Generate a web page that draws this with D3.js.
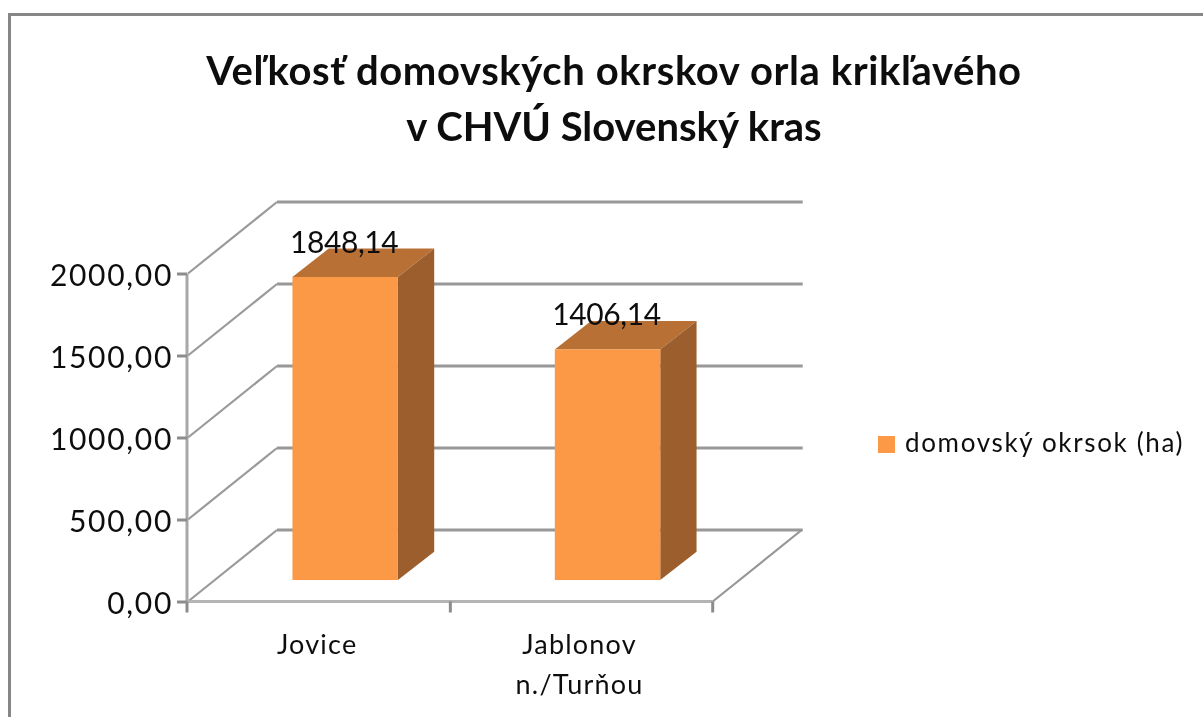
<!DOCTYPE html>
<html><head><meta charset="utf-8">
<script src="https://cdn.jsdelivr.net/npm/d3@7"></script>
<style>html,body{margin:0;padding:0;background:#fff;overflow:hidden}svg{display:block}text{font-family:Lato,"Open Sans",sans-serif;fill:#111}</style>
</head><body><svg id="c" width="1203" height="717"></svg>
<script>
const titleLines=["Veľkosť domovských okrskov orla krikľavého","v CHVÚ Slovenský kras"];
const categories=[["Jovice"],["Jablonov","n./Turňou"]];
const values=[1848.14,1406.14];
const seriesName="domovský okrsok (ha)";
const yTicks=[0,500,1000,1500,2000];
const svg=d3.select("#c");
svg.append("defs").append("filter").attr("id","soft").attr("x","-5%").attr("y","-20%").attr("width","110%").attr("height","140%").append("feGaussianBlur").attr("stdDeviation",0.45);
svg.append("path").attr("d","M9.5,717V14.5H1203").attr("fill","none").attr("stroke","#868686").attr("stroke-width",3);
const y=d3.scaleLinear().domain([0,2000]).range([601.5,273.5]);
const x=d3.scaleBand().domain(d3.range(categories.length)).range([188,712.7]).paddingInner(0).paddingOuter(0);
const wallDx=89,wallDy=-71.5,barFrac=0.3,barDepthDx=36.3,barDepthDy=-28.4,barFracW=0.402;
const grid=svg.append("g");
yTicks.forEach(t=>{
 const yy=y(t);
 grid.append("path").attr("d",`M${x.range()[0]},${yy}L${x.range()[0]+wallDx},${yy+wallDy}`).attr("fill","none").attr("stroke","#9a9a9a").attr("stroke-width",2.2);
 grid.append("path").attr("d",`M${x.range()[0]+wallDx},${yy+wallDy}H${x.range()[1]+wallDx+1}`).attr("fill","none").attr("stroke","#989898").attr("stroke-width",3);
});
grid.append("path").attr("d",`M${x.range()[1]},${y(0)}L${x.range()[1]+wallDx},${y(0)+wallDy}`).attr("fill","none").attr("stroke","#969696").attr("stroke-width",2.2);
const fmt=d=>d3.format(".2f")(d).replace(".",",");
const ax=d3.axisLeft(y).tickValues(yTicks).tickSize(10).tickPadding(4).tickFormat(fmt);
const gy=svg.append("g").attr("transform","translate(187,0)").call(ax);
gy.selectAll("line").attr("stroke","#8c8c8c").attr("stroke-width",3);
gy.select(".domain").attr("stroke","#a8a8a8").attr("stroke-width",3).attr("d",`M0,${y(2000)}V${y(0)}`);
gy.selectAll("text").attr("font-size",30).attr("font-family","Lato").attr("fill","#111").attr("text-anchor","end").attr("x",-14).attr("dy",12).attr("letter-spacing",1.7).attr("filter","url(#soft)");
const gx=svg.append("g").attr("transform",`translate(0,${y(0)})`);
gx.append("line").attr("x1",x.range()[0]).attr("x2",x.range()[1]).attr("stroke","#b4b4b4").attr("stroke-width",3);
[0,1,2].forEach(i=>{const p=x.range()[0]+i*x.bandwidth()-(i==0?1:0);gx.append("line").attr("x1",p).attr("x2",p).attr("y1",0).attr("y2",11).attr("stroke","#8c8c8c").attr("stroke-width",3);});
const bars=svg.append("g").selectAll("g").data(values).join("g");
const ox=26,oy=-wallDy*barFrac;
const bx=i=>x(i)+x.bandwidth()/2+ox-x.bandwidth()*barFracW/2;
const bw=x.bandwidth()*barFracW;
const baseY=y(0)-oy;
const topY=d=>baseY-(y(0)-y(d));
bars.append("path").attr("fill","#b97035").attr("d",(d,i)=>`M${bx(i)},${topY(d)}l${barDepthDx},${barDepthDy}h${bw}l${-barDepthDx},${-barDepthDy}Z`);
bars.append("path").attr("fill","#9c5e2c").attr("d",(d,i)=>`M${bx(i)+bw},${topY(d)}l${barDepthDx},${barDepthDy}V${baseY+barDepthDy}l${-barDepthDx},${-barDepthDy}Z`);
bars.append("rect").attr("fill","#fb9947").attr("x",(d,i)=>bx(i)).attr("width",bw).attr("y",d=>topY(d)).attr("height",d=>baseY-topY(d));
bars.append("text").attr("x",(d,i)=>bx(i)+bw/2-1).attr("y",d=>topY(d)-24).attr("text-anchor","middle").attr("font-size",30).attr("letter-spacing",-0.4).attr("filter","url(#soft)").text(d=>fmt(d));
const lab=svg.append("g").selectAll("text").data(categories).join("text").attr("text-anchor","middle").attr("font-size",27).attr("letter-spacing",1.2).attr("filter","url(#soft)");
lab.selectAll("tspan").data((d,i)=>d.map(s=>({s,i}))).join("tspan").attr("x",d=>x(d.i)+x.bandwidth()/2-2).attr("y",(d,j)=>654+j*40).text(d=>d.s);
const t=svg.append("g").attr("filter","url(#soft)");
titleLines.forEach((s,i)=>t.append("text").attr("x",614).attr("y",[85,141][i]).attr("text-anchor","middle").attr("font-size",40).attr("font-weight",700).attr("letter-spacing",[0.6,0][i]).text(s));
svg.append("rect").attr("x",878).attr("y",436).attr("width",17).attr("height",17).attr("fill","#fb9947");
svg.append("text").attr("x",905).attr("y",452).attr("font-size",26).attr("letter-spacing",1.65).attr("filter","url(#soft)").text(seriesName);
</script></body></html>
